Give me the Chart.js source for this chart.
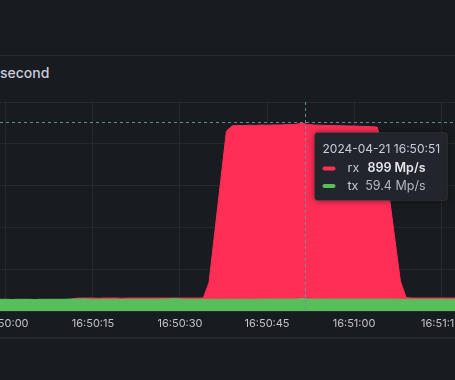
<!DOCTYPE html>
<html><head><meta charset="utf-8">
<script src="https://cdn.jsdelivr.net/npm/chart.js@4.4.1/dist/chart.umd.min.js"></script>
<style>
html,body{margin:0;padding:0;background:#181b1f;overflow:hidden;}
#wrap{position:relative;width:455px;height:380px;background:#181b1f;}
#topline{position:absolute;left:0;top:55px;width:455px;height:1px;background:#2a2d33;}
#botline{position:absolute;left:0;top:337px;width:455px;height:2px;background:#25282d;}
#title{position:absolute;left:0;top:63px;font:500 14px Inter, sans-serif;color:#ccccdc;line-height:20px;white-space:nowrap;}
canvas{position:absolute;left:0;top:0;}
</style></head><body>
<div id="wrap">
<div id="topline"></div><div id="botline"></div>
<div id="title"></div>
<canvas id="c" width="455" height="380"></canvas>
</div>
<script>
const panelTitle = 'second';
// seconds after 16:50:00
const seconds = [
  -2,-1,0,1,2,3,4,5,6,7,
  8,9,10,11,12,13,14,15,16,17,
  18,19,20,21,22,23,24,25,26,27,
  28,29,30,31,32,33,34,35,36,37,
  38,39,40,41,42,43,44,45,46,47,
  48,49,50,51,52,53,54,55,56,57,
  58,59,60,61,62,63,64,65,66,67,
  68,69,70,71,72,73,74,75,76,77,
  78];
const rx = [
  54,54,54,54,54,54,54,54,54,54,
  54,54,54,55,61,62,62,62,61,62,
  62,62,61,62,62,62,62,62,62,62,
  62,62,62,62,62,62,62,135,377,619,
  861,886,888,887,889,888,890,889,890,890,
  891,892,893,899,892,890,889,888,887,887,
  886,885,885,884,883,882,880,775,564,353,
  142,64,62,62,62,62,62,62,62,62,
  62];
const tx = [
  56,56,56,55,56,56,56,55,56,56,
  56,56,56,57,57,58,57,56,56,56,
  56,56,55,56,56,56,56,56,56,57,
  57,59,57,56,56,56,56,56,56,56,
  56,56,56,56,56,56,57,57,57,57,
  57,57,57,59.4,57,57,57,57,57,57,
  57,57,57,57,57,57,57,57,57,57,
  56,56,56,56,56,56,56,56,56,56,
  56];
const tickSeconds = [0,15,30,45,60,75];
const tickLabels = ['16:50:00','16:50:15','16:50:30','16:50:45','16:51:00','16:51:15'];
const seriesNames = ['rx','tx'];
const unit = 'Mp/s';
const hoverSecond = 51;
const hoverTimeLabel = '2024-04-21 16:50:51';
const cursorSecond = 51.55;
const cursorValue = 905;

const RED = 'rgb(255,46,86)';
const GREEN = 'rgb(86,191,92)';
const GRID = 'rgba(204,204,220,0.08)';
const TICK = '#c2c3cb';
const CROSS = 'rgba(110,150,160,0.9)';

document.getElementById('title').textContent = panelTitle;

function fmt(v){ return Number(v.toPrecision(3)).toString(); }

const hoverPlugin = {
  id:'hover',
  afterDatasetsDraw(chart){
    const ctx = chart.ctx, a = chart.chartArea;
    const xs = chart.scales.x, ys = chart.scales.y;
    const idx = seconds.indexOf(hoverSecond);
    const cx = Math.round(xs.getPixelForValue(cursorSecond)) + 0.5;
    const cy = Math.round(ys.getPixelForValue(cursorValue)) + 0.5;
    ctx.save();
    ctx.lineWidth = 1;
    ctx.strokeStyle = CROSS;
    ctx.setLineDash([3,3]);
    ctx.beginPath(); ctx.moveTo(cx, a.top); ctx.lineTo(cx, a.bottom); ctx.stroke();
    ctx.beginPath(); ctx.moveTo(a.left, cy); ctx.lineTo(a.right, cy); ctx.stroke();
    ctx.setLineDash([]);
    const bx = cx + 9, by = cy + 10, bw = 133, bh = 68;
    ctx.shadowColor = 'rgba(0,0,0,0.5)';
    ctx.shadowBlur = 6;
    ctx.fillStyle = '#22252b';
    ctx.beginPath();
    ctx.roundRect(bx, by, bw, bh, 3);
    ctx.fill();
    ctx.shadowColor = 'transparent';
    ctx.strokeStyle = 'rgba(204,204,220,0.08)';
    ctx.stroke();
    ctx.textBaseline = 'middle';
    ctx.font = '400 12px Inter, sans-serif';
    ctx.fillStyle = '#ccccdc';
    ctx.textAlign = 'left';
    ctx.fillText(hoverTimeLabel, bx + 8, by + 17);
    const rows = [
      {name: seriesNames[0], color: RED, val: rx[idx], bold: true},
      {name: seriesNames[1], color: GREEN, val: tx[idx], bold: false}
    ];
    rows.forEach((r, i) => {
      const ry = by + 36 + i * 17.5;
      ctx.strokeStyle = r.color;
      ctx.lineWidth = 4;
      ctx.lineCap = 'round';
      ctx.beginPath(); ctx.moveTo(bx + 10, ry); ctx.lineTo(bx + 19, ry); ctx.stroke();
      ctx.font = '400 12.5px Inter, sans-serif';
      ctx.fillStyle = '#c8c9d3';
      ctx.textAlign = 'left';
      ctx.fillText(r.name, bx + 33, ry);
      ctx.font = (r.bold ? '600' : '400') + ' 12.5px Inter, sans-serif';
      ctx.fillStyle = r.bold ? '#e6e6ee' : '#b5b6c0';
      ctx.textAlign = 'right';
      ctx.fillText(fmt(r.val) + ' ' + unit, bx + 111, ry);
    });
    ctx.restore();
  }
};

new Chart(document.getElementById('c'), {
  type: 'line',
  data: {
    datasets: [
      {label: seriesNames[0], data: seconds.map((s, i) => ({x: s, y: rx[i]})), borderColor: RED, backgroundColor: RED, fill: 'origin', borderWidth: 1, pointRadius: 0, tension: 0, order: 2},
      {label: seriesNames[1], data: seconds.map((s, i) => ({x: s, y: tx[i]})), borderColor: GREEN, backgroundColor: GREEN, fill: 'origin', borderWidth: 1, pointRadius: 0, tension: 0, order: 1}
    ]
  },
  options: {
    responsive: false,
    animation: false,
    devicePixelRatio: 1,
    layout: {padding: {top: 102, bottom: 42, left: 0, right: 0}},
    plugins: {legend: {display: false}, tooltip: {enabled: false}},
    scales: {
      x: {
        type: 'linear', min: -1.03, max: 77.41,
        afterBuildTicks(s){ s.ticks = tickSeconds.map(v => ({value: v})); },
        afterFit(s){ s.paddingLeft = 0; s.paddingRight = 0; s.height = 27; },
        ticks: {callback: (v) => tickLabels[tickSeconds.indexOf(v)], color: TICK, font: {family: 'Inter', size: 11}, padding: 6, maxRotation: 0, autoSkip: false},
        grid: {color: GRID, drawTicks: false},
        border: {display: false}
      },
      y: {
        min: 0, max: 1000,
        ticks: {display: false, stepSize: 200},
        afterFit(s){ s.width = 0; },
        grid: {color: GRID, drawTicks: false},
        border: {display: false}
      }
    }
  },
  plugins: [hoverPlugin]
});
</script>
</body></html>
